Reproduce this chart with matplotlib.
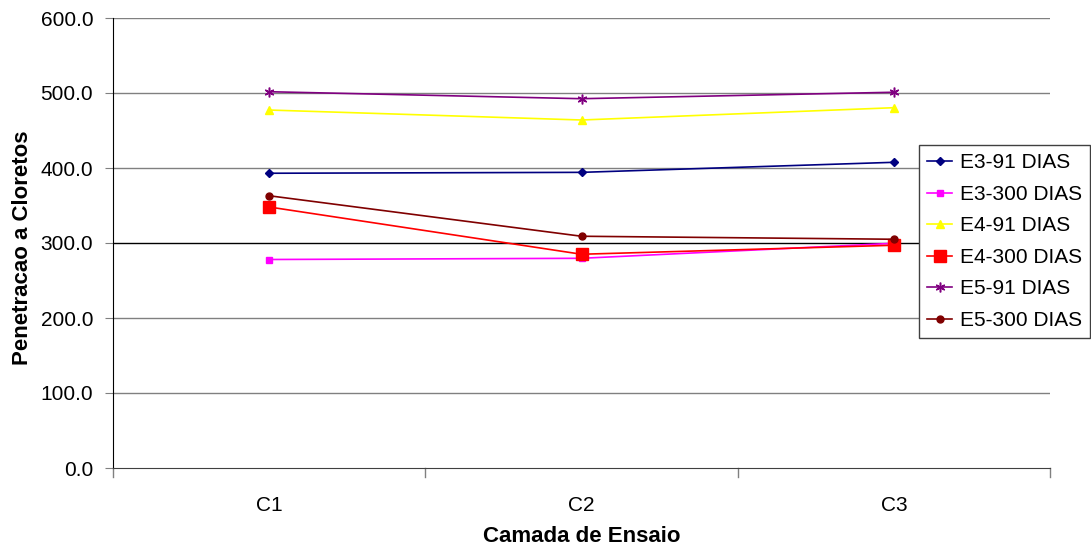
import matplotlib
matplotlib.use("Agg")
import matplotlib.pyplot as plt

plt.rcParams['font.family'] = ['Liberation Sans', 'DejaVu Sans']

categories = ["C1", "C2", "C3"]
series_names = ["E3-91 DIAS", "E3-300 DIAS", "E4-91 DIAS", "E4-300 DIAS", "E5-91 DIAS", "E5-300 DIAS"]
e3_91 = [393.0, 394.2, 407.6]
e3_300 = [278.0, 279.6, 299.6]
e4_91 = [477.3, 464.0, 480.4]
e4_300 = [348.0, 285.0, 297.0]
e5_91 = [501.7, 492.4, 501.0]
e5_300 = [363.0, 309.0, 305.0]
y_ticks = [0, 100, 200, 300, 400, 500, 600]

series = [e3_91, e3_300, e4_91, e4_300, e5_91, e5_300]
styles = [
    dict(color="#000080", marker="D", markersize=4),
    dict(color="#FF00FF", marker="s", markersize=5),
    dict(color="#FFFF00", marker="^", markersize=6),
    dict(color="#FF0000", marker="s", markersize=8),
    dict(color="#800080", marker=(6, 2, 0), markersize=7, markeredgewidth=1.1),
    dict(color="#800000", marker="o", markersize=5),
]

fig = plt.figure(figsize=(10.91, 5.46), dpi=100)
ax = fig.add_axes([113 / 1091, 1 - 468 / 546, (1050 - 113) / 1091, (468 - 18) / 546])

x = list(range(len(categories)))
for name, vals, st in zip(series_names, series, styles):
    ax.plot(x, vals, label=name, linewidth=1.2, **st)

ax.set_xlim(-0.5, len(categories) - 0.5)
ax.set_ylim(0, 600)
ax.set_yticks(y_ticks)
ax.set_yticklabels([f"{v:.1f}" for v in y_ticks], fontsize=15)
ax.set_xticks(x)
ax.set_xticklabels(categories, fontsize=15)
ax.tick_params(axis="x", length=0, pad=20)
ax.tick_params(axis="y", length=5.8, color="#808080", pad=8.5)
# category boundary ticks on the x axis
for b in [-0.5, 0.5, 1.5, 2.5]:
    ax.plot([b, b], [0, -12], color="#808080", linewidth=1, clip_on=False,
            transform=ax.transData)

for v in y_ticks[1:]:
    ax.axhline(v, color="black" if v == 300 else "#808080", linewidth=1, zorder=0)

for s in ["top", "right"]:
    ax.spines[s].set_visible(False)
ax.spines["left"].set_color("black")
ax.spines["bottom"].set_color("#404040")

ax.set_xlabel("Camada de Ensaio", fontsize=16, fontweight="bold", labelpad=8)
ax.set_ylabel("Penetracao a Cloretos", fontsize=16, fontweight="bold")
ax.yaxis.set_label_coords((33 - 113) / 937, 0.49)

leg = ax.legend(loc="upper left", bbox_to_anchor=(919 / 1091, 1 - 145 / 546),
                bbox_transform=fig.transFigure, fontsize=15, frameon=True,
                fancybox=False, edgecolor="#404040", framealpha=1,
                handlelength=1.2, handletextpad=0.35, borderpad=0.4,
                labelspacing=0.6, borderaxespad=0)
leg.get_frame().set_linewidth(1)

fig.savefig("out.png", dpi=100)
